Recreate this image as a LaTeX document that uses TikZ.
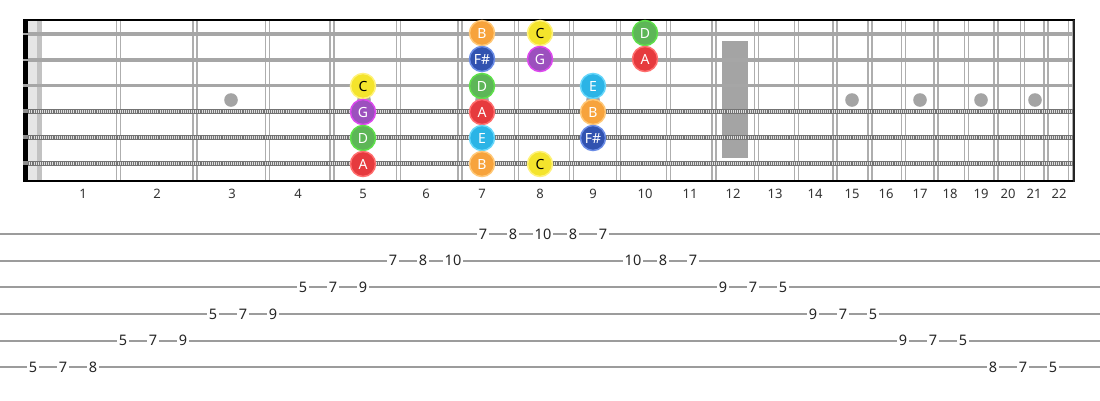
\documentclass[tikz,border=0pt]{standalone}
\usepackage{fontspec}
\setmainfont{Noto Sans}
\definecolor{nA}{HTML}{E63A3E}\definecolor{rA}{HTML}{FF6E6E}
\definecolor{nB}{HTML}{F7A33C}\definecolor{rB}{HTML}{FFC878}
\definecolor{nC}{HTML}{F4E42C}\definecolor{rC}{HTML}{FFF27A}
\definecolor{nD}{HTML}{5DB657}\definecolor{rD}{HTML}{5EE04A}
\definecolor{nE}{HTML}{2BB4E6}\definecolor{rE}{HTML}{66D6FA}
\definecolor{nF}{HTML}{3152B0}\definecolor{rF}{HTML}{6A8CE6}
\definecolor{nG}{HTML}{9C50BE}\definecolor{rG}{HTML}{DD48EE}
\definecolor{fretc}{HTML}{AEAEAE}
\definecolor{strc}{HTML}{A6A6A6}
\definecolor{inlay}{HTML}{A4A4A4}
\definecolor{tabline}{HTML}{9C9C9C}
\definecolor{numc}{HTML}{333333}
\colorlet{woundc}{black!55}
\tikzset{
  fretline/.style={draw=fretc, line width=1.6pt},
  plainstring/.style={draw=strc, line width=3.2pt},
  woundbase/.style={draw=woundc, line width=5pt},
  woundtick/.style={draw=white!75!gray, line width=3pt, dash pattern=on 1pt off 1.1pt},
  notedot/.style={circle, minimum size=25pt, inner sep=0pt, line width=1.5pt,
    font=\fontsize{14}{16}\selectfont},
  fretnum/.style={text=numc, font=\fontsize{13}{15}\selectfont, inner sep=0pt},
  tabnum/.style={text=black!85, fill=white, font=\fontsize{14.5}{16}\selectfont, inner xsep=2pt, inner ysep=1pt},
  tabrule/.style={draw=tabline, line width=1.8pt},
}
\begin{document}
\begin{tikzpicture}[x=1pt,y=-1pt]
\useasboundingbox[fill=white] (0,0) rectangle (1100,400);
% nut light area
\fill[black!10] (27.5,20) rectangle (37,180);
\fill[black!24] (37,20) rectangle (41.5,180);
% frets
\foreach \f in {118.5,195,267.5,332,398.5,460,516.5,571.5,618.5,668.5,714,756.5,796.5,835,870,903.5,936,966.5,996,1022.5,1046,1070.5}{
  \draw[fretline] (\f-1.9,20) -- (\f-1.9,180);
  \draw[fretline] (\f+1.9,20) -- (\f+1.9,180);
}
% inlays
\foreach \x [count=\i] in {231,364,482,593,852,920,981,1035}{
  \fill[inlay] (\x,100) circle (6.8);
}
\fill[inlay] (722,41) rectangle (748,158);
% strings
\foreach \y [count=\i] in {34,60,85.5}{
  \draw[plainstring] (23,\y) -- (1075,\y);
}
\foreach \y in {111,137,163}{
  \draw[woundbase] (23,\y) -- (1075,\y);
  \draw[woundtick] (23,\y) -- (1075,\y);
}
% borders
\draw[black, line width=2pt] (23,19.5) -- (1074.5,19.5);
\draw[black, line width=2pt] (26,180.5) -- (1074.5,180.5);
\draw[black!85, line width=2pt] (1074,19.5) -- (1074,181.5);
\fill[black] (22.5,19) rectangle (27.5,181.5);
\foreach \y in {34,60,85.5}{ \draw[strc, line width=2.8pt] (22.5,\y) -- (27.5,\y); }
\foreach \y in {111,137,163}{ \draw[black!45, line width=4.5pt] (22.5,\y) -- (27.5,\y); }
% fret numbers
\foreach \x [count=\i] in {83,157,232,298,363,426,482,540,593,645,690,733,775,815,852,886,920,950,981,1008,1034,1059}{
  \node[fretnum] (fn\i) at (\x,194) {\i};
}
% note circles
\foreach \x/\y/\t/\c/\tc [count=\i] in {
  482/33/B/B/white, 540/33/C/C/black, 645/33/D/D/white,
  482/59/{F\#}/F/white, 540/59/G/G/white, 645/59/A/A/white,
  363/86/C/C/black, 482/86/D/D/white, 593/86/E/E/white,
  363/112/G/G/white, 482/112/A/A/white, 593/112/B/B/white,
  363/138/D/D/white, 482/138/E/E/white, 593/138/{F\#}/F/white,
  363/164/A/A/white, 482/164/B/B/white, 540/164/C/C/black}{
  \node[notedot, fill=n\c, draw=r\c, text=\tc] (note\i) at (\x,\y) {\t};
}
% tab staff
\foreach \y [count=\i] in {234,260.7,287.3,314,340.7,367.3}{
  \draw[tabrule] (0,\y) coordinate (tl\i) -- (1100,\y) coordinate (tr\i);
}
\foreach \k/\s/\n [count=\i] in {
  15/1/7,16/1/8,17/1/10,18/1/8,19/1/7,
  12/2/7,13/2/8,14/2/10,20/2/10,21/2/8,22/2/7,
  9/3/5,10/3/7,11/3/9,23/3/9,24/3/7,25/3/5,
  6/4/5,7/4/7,8/4/9,26/4/9,27/4/7,28/4/5,
  3/5/5,4/5/7,5/5/9,29/5/9,30/5/7,31/5/5,
  0/6/5,1/6/7,2/6/8,32/6/8,33/6/7,34/6/5}{
  \pgfmathsetmacro{\tx}{33+30*\k}
  \pgfmathsetmacro{\ty}{234+26.66*(\s-1)}
  \node[tabnum] (tab\i) at (\tx,\ty) {\n};
}
\end{tikzpicture}
\end{document}
